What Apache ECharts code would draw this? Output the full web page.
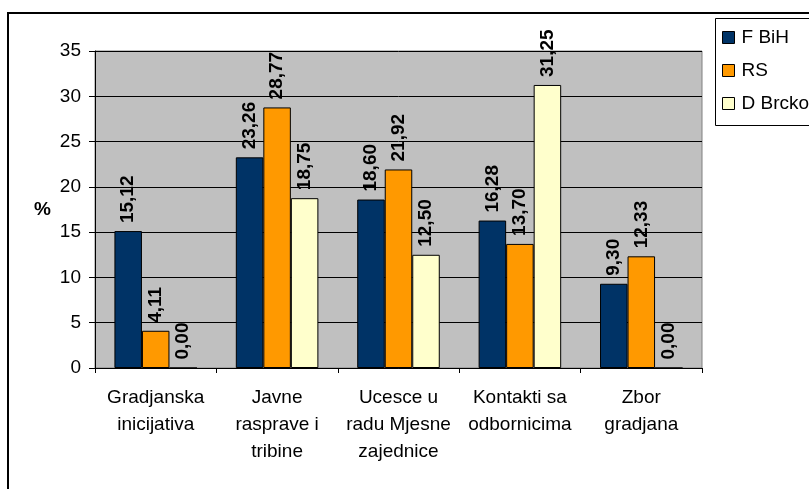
<!DOCTYPE html>
<html>
<head>
<meta charset="utf-8">
<script src="https://cdn.jsdelivr.net/npm/echarts@6/dist/echarts.min.js"></script>
<style>
  html, body { margin: 0; padding: 0; background: #fff; }
  #chart { width: 809px; height: 489px; }
</style>
</head>
<body>
<div id="chart"></div>
<script>
  // kategorije i vrijednosti (%)
  var categories = ['Gradjanska\ninicijativa', 'Javne\nrasprave i\ntribine', 'Ucesce u\nradu Mjesne\nzajednice', 'Kontakti sa\nodbornicima', 'Zbor\ngradjana'];
  var seriesNames = ['F BiH', 'RS', 'D Brcko'];
  var fbih = [15.12, 23.26, 18.60, 16.28, 9.30];
  var rs = [4.11, 28.77, 21.92, 13.70, 12.33];
  var brcko = [0.00, 18.75, 12.50, 31.25, 0.00];
  var colors = ['#003366', '#FF9900', '#FFFFCC'];

  var myChart = echarts.init(document.getElementById('chart'));

  function makeSeries(name, data) {
    return {
      name: name,
      type: 'bar',
      data: data,
      barGap: '0%',
      barCategoryGap: '32%',
      itemStyle: { borderColor: '#000', borderWidth: 1 },
      label: {
        show: true,
        position: 'top',
        rotate: 90,
        align: 'left',
        verticalAlign: 'middle',
        distance: 8,
        color: '#000',
        fontFamily: 'Liberation Sans, Arial, sans-serif',
        fontWeight: 'bold',
        fontSize: 19,
        formatter: function (p) {
          return p.value.toFixed(2).replace('.', ',');
        }
      }
    };
  }

  var options = {
    animation: false,
    color: colors,
    textStyle: { fontFamily: 'Liberation Sans, Arial, sans-serif' },
    graphic: [
      {
        type: 'rect',
        shape: { x: 8, y: 13, width: 900, height: 600 },
        style: { fill: 'none', stroke: '#000', lineWidth: 2 },
        z: -1
      },
      {
        type: 'rect',
        shape: { x: 715.5, y: 18.5, width: 200, height: 107 },
        style: { fill: '#fff', stroke: '#000', lineWidth: 1 }
      },
      {
        type: 'text',
        left: 34,
        top: 200,
        style: { text: '%', fontSize: 19, fontWeight: 'bold', fill: '#000', fontFamily: 'Liberation Sans, Arial, sans-serif' }
      }
    ],
    legend: {
      orient: 'vertical',
      left: 717,
      top: 23,
      itemWidth: 12,
      itemHeight: 12,
      itemGap: 14,
      icon: 'rect',
      data: seriesNames,
      itemStyle: { borderColor: '#000', borderWidth: 1 },
      textStyle: { fontSize: 19, color: '#000', padding: [0, 0, 0, 2] },
      z: 10
    },
    grid: {
      left: 95,
      right: 107,
      top: 51,
      bottom: 121,
      show: true,
      backgroundColor: '#C0C0C0',
      borderColor: '#808080',
      borderWidth: 1
    },
    xAxis: {
      type: 'category',
      data: categories,
      axisLine: { lineStyle: { color: '#000', width: 1 } },
      axisTick: { show: true, length: 5, lineStyle: { color: '#000' } },
      axisLabel: {
        interval: 0,
        margin: 16,
        fontSize: 19,
        lineHeight: 27,
        color: '#000'
      }
    },
    yAxis: {
      type: 'value',
      min: 0,
      max: 35,
      interval: 5,
      axisLine: { show: true, lineStyle: { color: '#000', width: 1 } },
      axisTick: { show: true, length: 6, lineStyle: { color: '#000' } },
      splitLine: { lineStyle: { color: '#000', width: 1 } },
      axisLabel: { fontSize: 19, color: '#000', margin: 14 }
    },
    series: [
      makeSeries(seriesNames[0], fbih),
      makeSeries(seriesNames[1], rs),
      makeSeries(seriesNames[2], brcko)
    ]
  };
  myChart.setOption(options);
</script>
</body>
</html>
